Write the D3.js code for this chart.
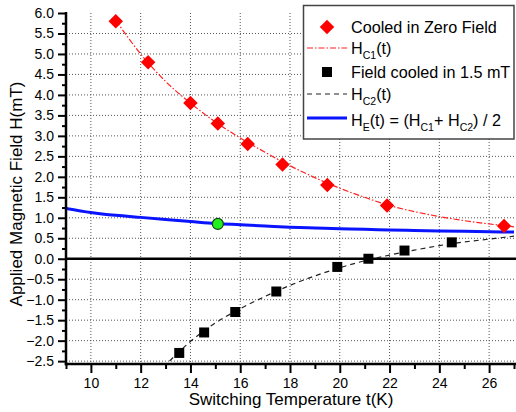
<!DOCTYPE html>
<html>
<head>
<meta charset="utf-8">
<script src="https://cdn.jsdelivr.net/npm/d3@7"></script>
<style>
  body { margin: 0; background: #fff; }
  svg { display: block; font-family: "Liberation Sans", Arial, sans-serif; }
</style>
</head>
<body>
<div id="chart"></div>
<script>
const zeroFieldT = [11.0, 12.3, 14.0, 15.1, 16.3, 17.7, 19.5, 21.9, 26.6];
const zeroFieldH = [5.8, 4.8, 3.8, 3.3, 2.8, 2.3, 1.8, 1.3, 0.8];

const fieldCooledT = [13.55, 14.55, 15.8, 17.45, 19.9, 21.15, 22.6, 24.5];
const fieldCooledH = [-2.3, -1.8, -1.3, -0.8, -0.2, 0.0, 0.2, 0.4];

// fitted curves
const hc1T = [11, 12, 13, 14, 15, 16, 17, 18, 19, 20, 21, 22, 23, 24, 25, 26, 27];
const hc1H = [5.82, 5.0, 4.33, 3.8, 3.34, 2.95, 2.6, 2.27, 1.98, 1.72, 1.5, 1.3, 1.15, 1.03, 0.93, 0.85, 0.78];

const hc2T = [12.9, 13.5, 14, 14.5, 15, 16, 17, 18, 19, 20, 21, 22, 23, 24, 25, 26, 27];
const hc2H = [-2.65, -2.3, -2.02, -1.78, -1.57, -1.22, -0.92, -0.65, -0.42, -0.22, -0.05, 0.09, 0.21, 0.32, 0.41, 0.48, 0.55];

const heT = [9, 10, 11, 12, 13, 14, 15, 16, 17, 18, 19, 20, 21, 22, 23, 24, 25, 26, 27];
const heH = [1.23, 1.13, 1.06, 1.01, 0.96, 0.91, 0.86, 0.83, 0.8, 0.77, 0.75, 0.73, 0.72, 0.7, 0.69, 0.68, 0.67, 0.66, 0.65];

const markT = [15.1];
const markH = [0.85];

const xTicks = [10, 12, 14, 16, 18, 20, 22, 24, 26];
const yTicks = [-2.5, -2.0, -1.5, -1.0, -0.5, 0.0, 0.5, 1.0, 1.5, 2.0, 2.5, 3.0, 3.5, 4.0, 4.5, 5.0, 5.5, 6.0];

const legendLabels = ["Cooled in Zero Field", "H_C1(t)", "Field cooled in 1.5 mT", "H_C2(t)", "H_E(t) = (H_C1+ H_C2) / 2"];

const W = 516, H = 412;
const plot = {left: 66, right: 514, top: 13, bottom: 364};

const svg = d3.select("#chart").append("svg")
    .attr("width", W)
    .attr("height", H);

const x = d3.scaleLinear().domain([9, 27]).range([plot.left, plot.right]);
const y = d3.scaleLinear().domain([-2.57, 6.0]).range([plot.bottom, plot.top]);

svg.append("defs").append("clipPath").attr("id", "clip")
    .append("rect")
    .attr("x", plot.left).attr("y", plot.top)
    .attr("width", W - plot.left).attr("height", plot.bottom - plot.top);

// grid
const grid = svg.append("g").attr("class", "grid");
grid.selectAll(".gx").data(xTicks).enter().append("line")
    .attr("x1", d => x(d)).attr("x2", d => x(d))
    .attr("y1", plot.top).attr("y2", plot.bottom)
    .attr("stroke", "#555").attr("stroke-width", 1).attr("stroke-dasharray", "1,2");
grid.selectAll(".gy").data(yTicks.filter(d => d !== 0 && d < 6)).enter().append("line")
    .attr("x1", plot.left).attr("x2", W)
    .attr("y1", d => y(d)).attr("y2", d => y(d))
    .attr("stroke", "#555").attr("stroke-width", 1).attr("stroke-dasharray", "1,2");

// zero line
svg.append("line")
    .attr("x1", plot.left).attr("x2", W)
    .attr("y1", y(0)).attr("y2", y(0))
    .attr("stroke", "black").attr("stroke-width", 2.5);

// curves
const line = d3.line().x(d => x(d[0])).y(d => y(d[1])).curve(d3.curveMonotoneX);
const curves = svg.append("g").attr("clip-path", "url(#clip)");

curves.append("path")
    .datum(d3.zip(hc1T, hc1H))
    .attr("d", line)
    .attr("fill", "none").attr("stroke", "#ff2020").attr("stroke-width", 1.2)
    .attr("stroke-dasharray", "6,2,1.5,2");

curves.append("path")
    .datum(d3.zip(hc2T, hc2H))
    .attr("d", line)
    .attr("fill", "none").attr("stroke", "#222").attr("stroke-width", 1.2)
    .attr("stroke-dasharray", "5,4");

curves.append("path")
    .datum(d3.zip(heT, heH))
    .attr("d", line)
    .attr("fill", "none").attr("stroke", "#0a14ff").attr("stroke-width", 3);

// markers
const diamond = d3.symbol().type(d3.symbolSquare).size(105);
const square = d3.symbol().type(d3.symbolSquare).size(100);

svg.append("g").selectAll("path").data(d3.zip(zeroFieldT, zeroFieldH)).enter().append("path")
    .attr("d", diamond)
    .attr("transform", d => "translate(" + x(d[0]) + "," + y(d[1]) + ") rotate(45)")
    .attr("fill", "#ff0000");

svg.append("g").selectAll("path").data(d3.zip(fieldCooledT, fieldCooledH)).enter().append("path")
    .attr("d", square)
    .attr("transform", d => "translate(" + x(d[0]) + "," + y(d[1]) + ")")
    .attr("fill", "black");

svg.append("g").selectAll("circle").data(d3.zip(markT, markH)).enter().append("circle")
    .attr("cx", d => x(d[0])).attr("cy", d => y(d[1]))
    .attr("r", 5.5)
    .attr("fill", "#22ee22").attr("stroke", "#114411").attr("stroke-width", 1.2);

// axes
const xAxis = d3.axisBottom(x).tickValues(xTicks).tickSize(9).tickPadding(5).tickFormat(d3.format("d"));
const xAxisMinor = d3.axisBottom(x).tickValues(d3.range(9, 28, 2)).tickSize(5).tickFormat("");
const yAxis = d3.axisLeft(y).tickValues(yTicks).tickSize(8).tickPadding(4).tickFormat(d3.format(".1f"));
const yAxisMinor = d3.axisLeft(y).tickValues(yTicks.map(d => d + 0.25).filter(d => d < 6)).tickSize(4).tickFormat("");

function styleAxis(g) {
    g.select(".domain").remove();
    g.selectAll(".tick line").attr("stroke", "black").attr("stroke-width", 2);
    g.selectAll(".tick text").attr("fill", "black").style("font-size", "14px")
        .style("font-family", "\"Liberation Sans\", Arial, sans-serif");
}

svg.append("g").attr("transform", "translate(0," + plot.bottom + ")").call(xAxisMinor).call(styleAxis);
svg.append("g").attr("transform", "translate(0," + plot.bottom + ")").call(xAxis).call(styleAxis);
svg.append("g").attr("transform", "translate(" + plot.left + ",0)").call(yAxisMinor).call(styleAxis);
svg.append("g").attr("transform", "translate(" + plot.left + ",0)").call(yAxis).call(styleAxis);

// axis lines
svg.append("line")
    .attr("x1", plot.left).attr("x2", plot.left)
    .attr("y1", plot.top - 1).attr("y2", plot.bottom + 1.2)
    .attr("stroke", "black").attr("stroke-width", 2.5);
svg.append("line")
    .attr("x1", plot.left - 1.2).attr("x2", W)
    .attr("y1", plot.bottom).attr("y2", plot.bottom)
    .attr("stroke", "black").attr("stroke-width", 2.5);

// axis titles
svg.append("text")
    .attr("x", (plot.left + plot.right) / 2 + 1)
    .attr("y", 405)
    .attr("text-anchor", "middle")
    .style("font-size", "17px")
    .text("Switching Temperature t(K)");

svg.append("text")
    .attr("transform", "translate(22," + 194 + ") rotate(-90)")
    .attr("text-anchor", "middle")
    .style("font-size", "17px")
    .text("Applied Magnetic Field H(mT)");

// legend
const legend = svg.append("g");
legend.append("rect")
    .attr("x", 303.5).attr("y", 5.5)
    .attr("width", 210.5).attr("height", 133.5)
    .attr("fill", "white").attr("stroke", "#444").attr("stroke-width", 1.5);

const rowY = [33, 54, 78, 100, 126];
const symX = 327, txtX = 351;

legend.append("path").attr("d", diamond)
    .attr("transform", "translate(" + symX + "," + (rowY[0] - 6) + ") rotate(45)")
    .attr("fill", "#ff0000");
legend.append("line")
    .attr("x1", 307).attr("x2", 347).attr("y1", rowY[1] - 6).attr("y2", rowY[1] - 6)
    .attr("stroke", "#ff2020").attr("stroke-width", 1.2).attr("stroke-dasharray", "6,2,1.5,2");
legend.append("path").attr("d", square)
    .attr("transform", "translate(" + symX + "," + (rowY[2] - 6) + ")")
    .attr("fill", "black");
legend.append("line")
    .attr("x1", 307).attr("x2", 347).attr("y1", rowY[3] - 6).attr("y2", rowY[3] - 6)
    .attr("stroke", "#222").attr("stroke-width", 1.2).attr("stroke-dasharray", "5,4");
legend.append("line")
    .attr("x1", 307).attr("x2", 347).attr("y1", rowY[4] - 8).attr("y2", rowY[4] - 8)
    .attr("stroke", "#0a14ff").attr("stroke-width", 3);

// labels with subscripts: "X_ab" means X with subscript ab
legendLabels.forEach((label, i) => {
    const t = legend.append("text")
        .attr("x", txtX).attr("y", rowY[i])
        .style("font-size", "16.2px");
    const parts = label.split(/(_[A-Z0-9]+)/);
    let shifted = false;
    parts.forEach(p => {
        if (p.startsWith("_")) {
            t.append("tspan").attr("dy", 5).style("font-size", "10.5px").text(p.slice(1));
            shifted = true;
        } else if (p.length) {
            const s = t.append("tspan").text(p);
            if (shifted) { s.attr("dy", -5); shifted = false; }
        }
    });
});
</script>
</body>
</html>
